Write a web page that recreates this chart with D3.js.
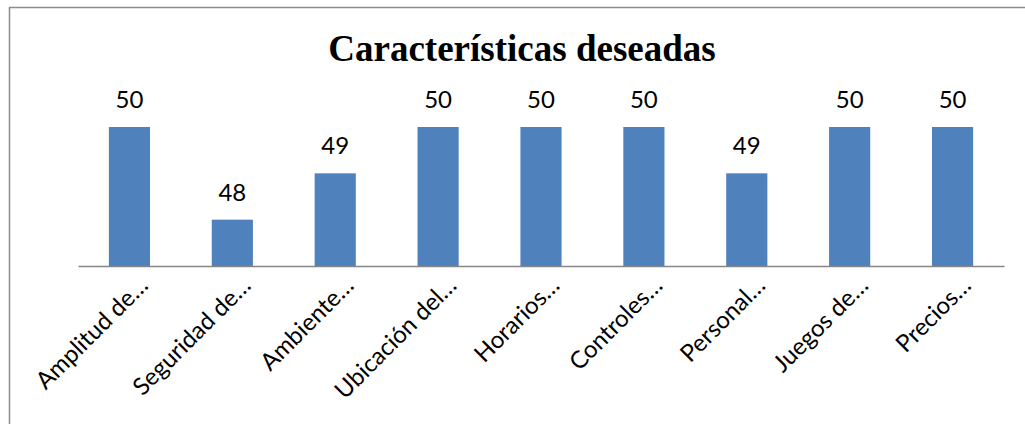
<!DOCTYPE html>
<html>
<head>
<meta charset="utf-8">
<script src="https://cdn.jsdelivr.net/npm/d3@7"></script>
<style>
  body { margin: 0; background: #fff; }
  svg { display: block; }
</style>
</head>
<body>
<script>
// chart data
var categories = ["Amplitud de…", "Seguridad de…", "Ambiente…", "Ubicación del…",
                  "Horarios…", "Controles…", "Personal…", "Juegos de…", "Precios…"];
var values = [50, 48, 49, 50, 50, 50, 49, 50, 50];
var yDomain = [47, 50];

var width = 1025,
    height = 424;

var svg = d3.select("body").append("svg")
    .attr("width", width)
    .attr("height", height);

// outer frame of the chart area (runs off the right and bottom edges)
svg.append("rect")
    .attr("x", 9.5)
    .attr("y", 7.5)
    .attr("width", 1030)
    .attr("height", 430)
    .attr("fill", "#fff")
    .attr("stroke", "#8c8c8c")
    .attr("stroke-width", 1.5);

svg.append("text")
    .attr("x", 522)
    .attr("y", 61)
    .attr("text-anchor", "middle")
    .style("font-family", "'Liberation Serif', 'Times New Roman', serif")
    .style("font-weight", "bold")
    .style("font-size", "37px")
    .text("Características deseadas");

var x = d3.scaleBand()
    .domain(categories)
    .range([78, 1004])
    .paddingInner(0.6)
    .paddingOuter(0.3);

var y = d3.scaleLinear()
    .domain(yDomain)
    .range([266, 127]);

var data = categories.map(function(c, i) { return {cat: c, val: values[i]}; });

svg.selectAll("rect.bar")
    .data(data)
    .enter().append("rect")
    .attr("class", "bar")
    .attr("x", function(d) { return x(d.cat); })
    .attr("y", function(d) { return y(d.val); })
    .attr("width", x.bandwidth())
    .attr("height", function(d) { return y(yDomain[0]) - y(d.val); })
    .attr("fill", "#4f81bd");

svg.selectAll("text.val")
    .data(data)
    .enter().append("text")
    .attr("class", "val")
    .attr("x", function(d) { return x(d.cat) + x.bandwidth() / 2; })
    .attr("y", function(d) { return y(d.val) - 19; })
    .attr("text-anchor", "middle")
    .style("font-family", "Lato, 'Open Sans', sans-serif")
    .style("font-size", "24px")
    .attr("fill", "#000")
    .text(function(d) { return d.val; });

// category axis: just the baseline, no ticks
var xAxis = svg.append("g")
    .attr("transform", "translate(0," + y(yDomain[0]) + ")")
    .call(d3.axisBottom(x).tickSize(0).tickSizeOuter(0).tickFormat(""));
xAxis.select(".domain")
    .attr("stroke", "#868686")
    .attr("stroke-width", 1.5);

svg.selectAll("text.cat")
    .data(categories)
    .enter().append("text")
    .attr("class", "cat")
    .attr("transform", function(d) {
        var cx = x(d) + x.bandwidth() / 2 + 20;
        return "translate(" + cx + ",287) rotate(-45)";
    })
    .attr("text-anchor", "end")
    .style("font-family", "Lato, 'Open Sans', sans-serif")
    .style("font-size", "24px")
    .attr("fill", "#000")
    .text(function(d) { return d; });
</script>
</body>
</html>
